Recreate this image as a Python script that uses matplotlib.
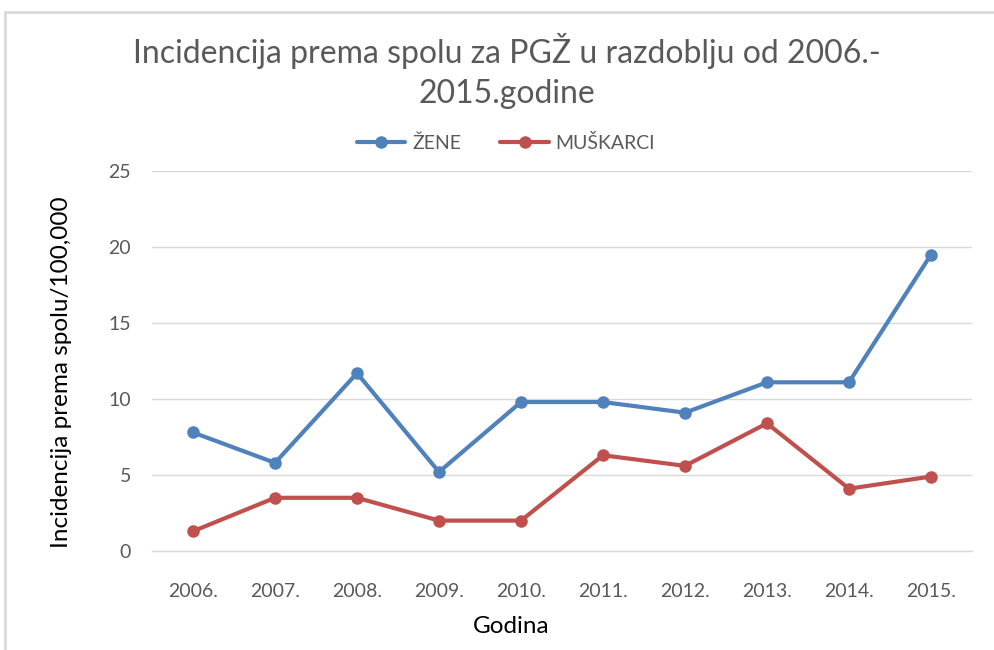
import matplotlib
matplotlib.use("Agg")
import matplotlib.pyplot as plt
from matplotlib.patches import Rectangle

# data
godine = ["2006.", "2007.", "2008.", "2009.", "2010.", "2011.", "2012.", "2013.", "2014.", "2015."]
zene = [7.8, 5.8, 11.7, 5.2, 9.8, 9.8, 9.1, 11.1, 11.1, 19.5]
muskarci = [1.3, 3.5, 3.5, 2.0, 2.0, 6.3, 5.6, 8.4, 4.1, 4.9]
y_ticks = [0, 5, 10, 15, 20, 25]

FONT = ["Lato", "DejaVu Sans"]
GREY = "#595959"

fig = plt.figure(figsize=(9.95, 6.5), dpi=100)
ax = fig.add_axes([152/995, 1-551/650, 820/995, 380/650])

# chart frame like the excel chart area (runs off right/bottom edge)
fig.patches.append(Rectangle((5/995, -0.1), 1.2, 1-12/650+0.1, transform=fig.transFigure,
                             fill=False, edgecolor="#D9D9D9", lw=2))

x = range(len(godine))
ax.plot(x, zene, color="#4F81BD", lw=3, marker="o", ms=8, label="ŽENE", solid_capstyle="round", zorder=3)
ax.plot(x, muskarci, color="#C0504D", lw=3, marker="o", ms=8, label="MUŠKARCI", solid_capstyle="round", zorder=3)

ax.set_xlim(-0.5, len(godine)-0.5)
ax.set_ylim(0, 25)
ax.set_yticks(y_ticks)
ax.set_xticks(list(x))
ax.set_xticklabels(godine)
ax.grid(axis="y", color="#D9D9D9", lw=1)
ax.axhline(0, color="#D9D9D9", lw=1, clip_on=False, zorder=1)
ax.set_axisbelow(True)
for s in ax.spines.values():
    s.set_visible(False)
ax.tick_params(length=0, colors=GREY, labelsize=14)
ax.tick_params(axis="x", pad=23)
ax.tick_params(axis="y", pad=15)
for lbl in ax.get_xticklabels() + ax.get_yticklabels():
    lbl.set_family(FONT)

ax.set_ylabel("Incidencija prema spolu/100,000", fontsize=17.5, family=FONT)
ax.yaxis.set_label_coords(-(152-72)/820, (551-372)/380)
ax.set_xlabel("Godina", fontsize=17.5, family=FONT)
ax.xaxis.set_label_coords((511-152)/820, -(616-551)/380)

fig.text(507/995, 1-71/650, "Incidencija prema spolu za PGŽ u razdoblju od 2006.-\n2015.godine",
         ha="center", va="center", fontsize=23, color=GREY, family=FONT, linespacing=1.45)

leg = ax.legend(loc="center", bbox_to_anchor=((506-152)/820, 1+(171-143)/380), ncol=2, frameon=False,
                prop={"family": FONT, "size": 14}, handlelength=2.5, handletextpad=0.35,
                columnspacing=2.0)
for t in leg.get_texts():
    t.set_color(GREY)

fig.savefig("out.png", dpi=100)
